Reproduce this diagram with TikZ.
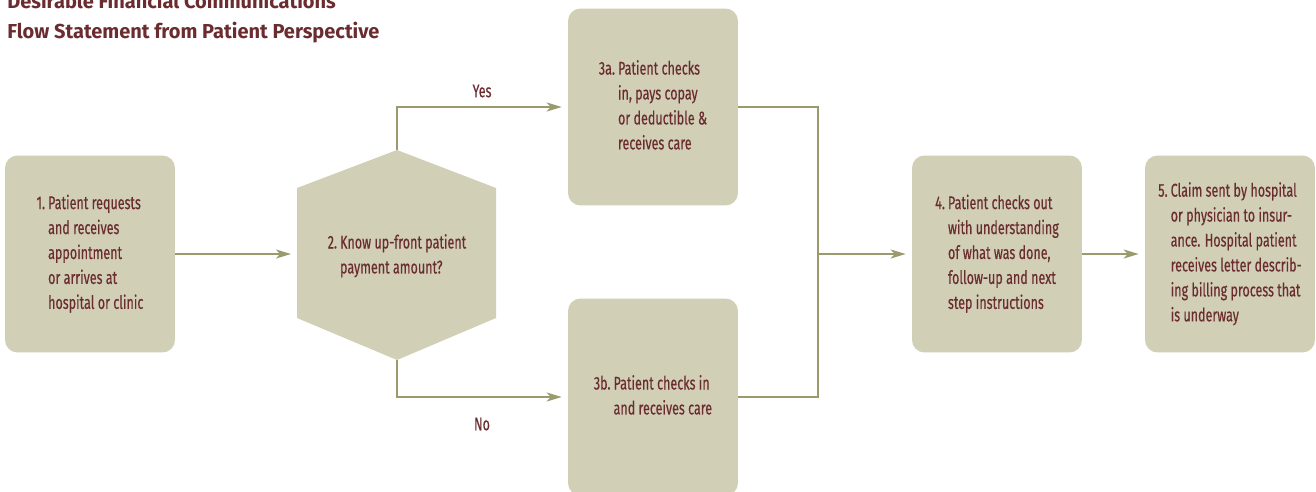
\documentclass[tikz,border=0pt]{standalone}
\usepackage{fontspec}
\setmainfont{Fira Sans}
\newfontfamily\condfont[FakeStretch=0.68, FakeBold=0.35]{Fira Sans}
\newfontfamily\headfont[FakeStretch=0.99]{Fira Sans}
\usetikzlibrary{arrows.meta}

\definecolor{boxfill}{HTML}{D1CFB6}
\definecolor{flowline}{HTML}{9A9A6C}
\definecolor{inkred}{HTML}{6B2C30}

\tikzset{
	stepbox/.style={fill=boxfill, rounded corners=0.25cm, minimum width=3.4cm,
		minimum height=3.94cm, inner sep=0pt, text=inkred,
		font=\condfont\fontsize{10.5}{14.2}\selectfont},
	steptext/.style={inner sep=0pt, text=inkred,
		font=\condfont\fontsize{10.5}{14.2}\selectfont},
	flow/.style={draw=flowline, line width=1.1pt},
	flowarrow/.style={flow, -{Stealth[length=0.3cm,width=0.18cm,inset=0.08cm]},
		shorten >=0.12cm},
}

\begin{document}
\begin{tikzpicture}[x=0.02cm, y=-0.02cm]
	
	\useasboundingbox (0,0) rectangle (1316,491);
	
	% title
	\node[anchor=base west, inner sep=0pt, text=inkred,
		font=\headfont\bfseries\fontsize{11.5}{17}\selectfont] (title) at (7,38)
		{Flow Statement from Patient Perspective};
	\node[anchor=base west, inner sep=0pt, text=inkred,
		font=\headfont\bfseries\fontsize{11.5}{17}\selectfont] (suptitle) at (7,8)
		{Desirable Financial Communications};
	
	% step boxes
	\node[stepbox] (request) at (90,254) {\begin{tabular}{@{}l@{\,}l@{}}
		1. & Patient requests\\ & and receives\\ & appointment\\ & or arrives at\\ & hospital or clinic
		\end{tabular}};
	\node[stepbox] (pay) at (653,107) {\begin{tabular}{@{}l@{\,}l@{}}
		3a. & Patient checks\\ & in, pays copay\\ & or deductible \&\\ & receives care
		\end{tabular}};
	\node[stepbox] (checkin) at (653,397) {\begin{tabular}{@{}l@{\,}l@{}}
		3b. & Patient checks in\\ & and receives care
		\end{tabular}};
	\node[stepbox] (checkout) at (997,254) {\begin{tabular}{@{}l@{\,}l@{}}
		4. & Patient checks out\\ & with understanding\\ & of what was done,\\ & follow-up and next\\ & step instructions
		\end{tabular}};
	\node[stepbox] (claim) at (1230,254) {\begin{tabular}{@{}l@{\,}l@{}}
		5. & Claim sent by hospital\\ & or physician to insur-\\ & ance. Hospital patient\\ & receives letter describ-\\ & ing billing process that\\ & is underway
		\end{tabular}};
	
	% decision
	\coordinate (hexN) at (397,150);
	\coordinate (hexNE) at (496,188);
	\coordinate (hexSE) at (496,318);
	\coordinate (hexS) at (397,360);
	\coordinate (hexSW) at (297,318);
	\coordinate (hexNW) at (297,188);
	\fill[boxfill] (hexN) -- (hexNE) -- (hexSE) -- (hexS) -- (hexSW) -- (hexNW) -- cycle;
	\node[steptext] (know) at (397,256) {\begin{tabular}{@{}l@{\,}l@{}}
		2. & Know up-front patient\\ & payment amount?
		\end{tabular}};
	
	% connectors
	\coordinate (merge) at (818,254);
	\draw[flowarrow] (request.east) -- (request.east -| hexNW);
	\draw[flowarrow] (hexN) |- (pay.west);
	\draw[flowarrow] (hexS) |- (checkin.west);
	\draw[flow] (pay.east) -| (merge) |- (checkin.east);
	\draw[flowarrow] (merge) -- (checkout.west);
	\draw[flowarrow] (checkout.east) -- (claim.west);
	
	\node[steptext] (yes) at (482,91) {Yes};
	\node[steptext] (no) at (482,424) {No};
	
\end{tikzpicture}
\end{document}
